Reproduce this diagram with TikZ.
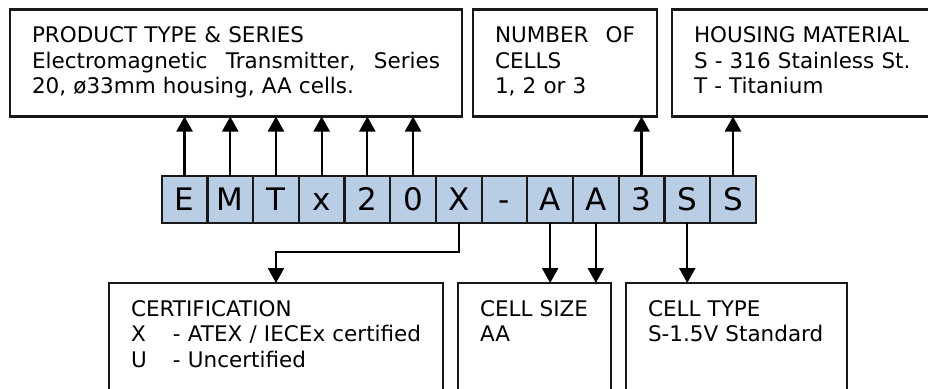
\documentclass[tikz,border=0pt]{standalone}
\usepackage{fontspec}
\setmainfont{DejaVu Sans}
\usepackage{xcolor}
\usetikzlibrary{arrows.meta,positioning}

\definecolor{cellblue}{HTML}{B9CDE5}

\begin{document}
\begin{tikzpicture}[
    x=1pt, y=1pt,
    % Letters of the order code
    cell/.style={rectangle, draw=black!90, fill=cellblue, line width=2.2pt,
        minimum width=45.7pt, minimum height=47pt, inner sep=0pt, outer sep=0pt,
        text height=23pt, text depth=0pt, font=\fontsize{31}{36}\selectfont},
    % Description boxes (top row)
    infobox/.style={rectangle, draw=black!90, line width=2.2pt, anchor=north west,
        align=left, inner xsep=22pt, inner ysep=0pt, outer sep=0pt,
        text height=33pt, text depth=74pt, font=\fontsize{21.5}{25.7}\selectfont},
    % Description boxes (bottom row, cut by the page)
    lowbox/.style={infobox, text depth=80pt},
    % Arrow styles
    arrow/.style={-{Triangle[length=15pt, width=16pt]}, line width=2.2pt, color=black}
]
    \useasboundingbox (0,0) rectangle (928,-388);

    % Order code
    \node[cell] (cE) at (184.55,-199.2) {E};
    \node[cell, right=0pt of cE] (cM) {M};
    \node[cell, right=0pt of cM] (cT) {T};
    \node[cell, right=0pt of cT] (cx) {x};
    \node[cell, right=0pt of cx] (c2) {2};
    \node[cell, right=0pt of c2] (c0) {0};
    \node[cell, right=0pt of c0] (cX) {X};
    \node[cell, right=0pt of cX] (cdash) {-};
    \node[cell, right=0pt of cdash] (cA1) {A};
    \node[cell, right=0pt of cA1] (cA2) {A};
    \node[cell, right=0pt of cA2] (c3) {3};
    \node[cell, right=0pt of c3] (cS1) {S};
    \node[cell, right=0pt of cS1] (cS2) {S};

    % Top row
    \node[infobox, text width=408pt] (product) at (10,-9.5)
        {PRODUCT TYPE \& SERIES\\
         Electromagnetic\hfill Transmitter,\hfill Series\\
         20, ø33mm housing, AA cells.};
    \node[infobox, text width=140pt] (ncells) at (473,-9.5)
        {NUMBER\hfill OF\\ CELLS\\ 1, 2 or 3};
    \node[infobox, text width=231pt] (housing) at (672,-9.5)
        {HOUSING MATERIAL\\ S - 316 Stainless St.\\ T - Titanium};

    % Bottom row
    \node[lowbox, text width=290pt] (certif) at (109,-283)
        {CERTIFICATION\\
         \mbox{\makebox[42pt][l]{X}- ATEX / IECEx certified}\\
         \mbox{\makebox[42pt][l]{U}- Uncertified}};
    \node[lowbox, text width=109pt] (cellsize) at (458,-283)
        {CELL SIZE\\ AA};
    \node[lowbox, text width=177pt] (celltype) at (626,-283)
        {CELL TYPE\\ S-1.5V Standard};

    % Upward arrows
    \draw[arrow] (cE.north) -- (cE.north |- product.south);
    \draw[arrow] (cM.north) -- (cM.north |- product.south);
    \draw[arrow] (cT.north) -- (cT.north |- product.south);
    \draw[arrow] (cx.north) -- (cx.north |- product.south);
    \draw[arrow] (c2.north) -- (c2.north |- product.south);
    \draw[arrow] (c0.north) -- (c0.north |- product.south);
    \draw[arrow] (c3.north) -- (c3.north |- ncells.south);
    \draw[arrow] (cS2.north) -- (cS2.north |- housing.south);

    % Downward arrows
    \draw[arrow] (cX.south) -- ++(0,-29.5) -| (certif.north);
    \draw[arrow] (cA1.south) -- (cA1.south |- cellsize.north);
    \draw[arrow] (cA2.south) -- (cA2.south |- cellsize.north);
    \draw[arrow] (cS1.south) -- (cS1.south |- celltype.north);
\end{tikzpicture}
\end{document}
